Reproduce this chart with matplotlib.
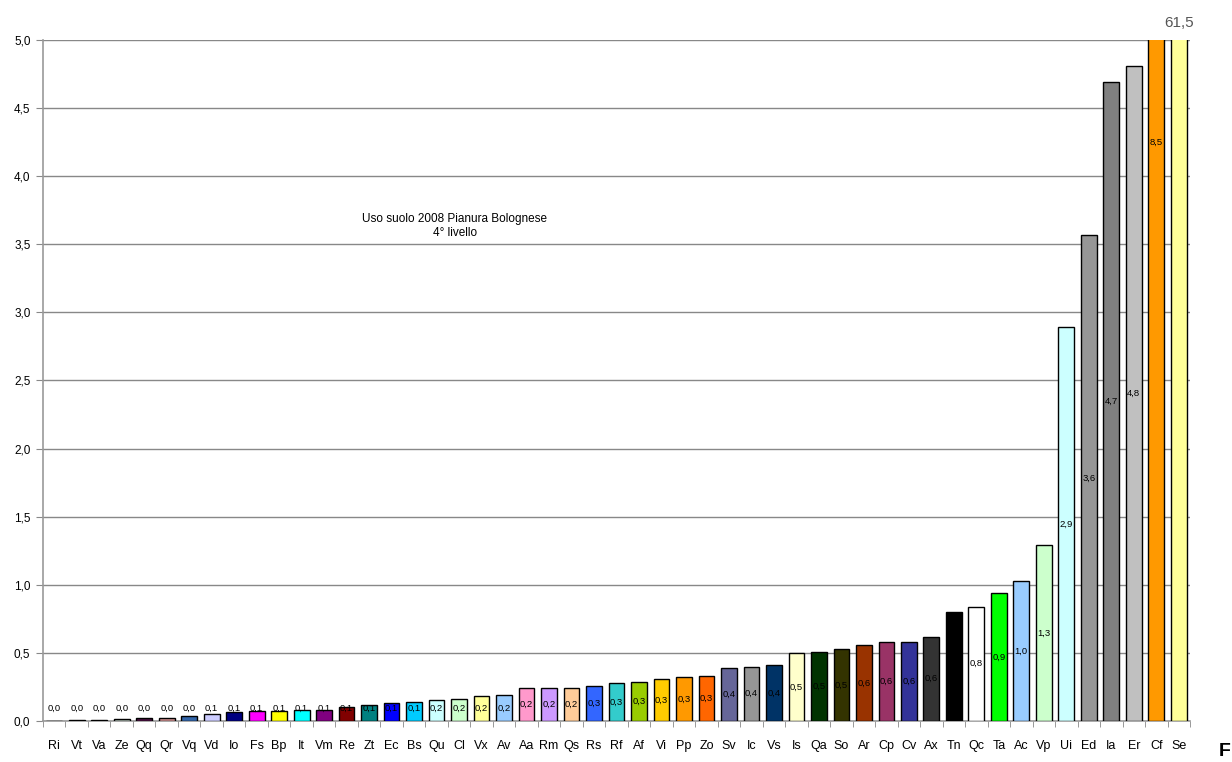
import matplotlib.pyplot as plt
import matplotlib.transforms as mtransforms
import numpy as np

plt.rcParams['font.family'] = ['Liberation Sans', 'DejaVu Sans']

codes = ['Ri', 'Vt', 'Va', 'Ze', 'Qq', 'Qr', 'Vq', 'Vd', 'Io', 'Fs', 'Bp', 'It', 'Vm', 'Re',
         'Zt', 'Ec', 'Bs', 'Qu', 'Cl', 'Vx', 'Av', 'Aa', 'Rm', 'Qs', 'Rs', 'Rf', 'Af', 'Vi',
         'Pp', 'Zo', 'Sv', 'Ic', 'Vs', 'Is', 'Qa', 'So', 'Ar', 'Cp', 'Cv', 'Ax', 'Tn', 'Qc',
         'Ta', 'Ac', 'Vp', 'Ui', 'Ed', 'Ia', 'Er', 'Cf', 'Se']

# percent of area
values = [0.0, 0.005, 0.01, 0.012, 0.02, 0.022, 0.04, 0.055, 0.065, 0.07, 0.072, 0.078,
          0.08, 0.1, 0.12, 0.13, 0.14, 0.155, 0.165, 0.18, 0.19, 0.24, 0.24, 0.245, 0.26,
          0.28, 0.29, 0.31, 0.32, 0.33, 0.39, 0.4, 0.41, 0.5, 0.51, 0.53, 0.56, 0.58, 0.58,
          0.62, 0.8, 0.84, 0.94, 1.03, 1.29, 2.89, 3.57, 4.69, 4.81, 8.5, 61.5]

colors = ['#999999', '#333333', '#d8d8d8', '#c8d8cc', '#4a1040', '#d09090', '#3366aa',
          '#ccccff', '#000080', '#ff00ff', '#ffff00', '#00ffff', '#800080', '#800000',
          '#008080', '#0000ff', '#00ccff', '#ccffff', '#ccffcc', '#ffff99', '#99ccff',
          '#ff99cc', '#cc99ff', '#ffcc99', '#3366ff', '#33cccc', '#99cc00', '#ffcc00',
          '#ff9900', '#ff6600', '#666699', '#969696', '#003366', '#ffffcc', '#003300',
          '#333300', '#993300', '#993366', '#333399', '#333333', '#000000', '#ffffff',
          '#00ff00', '#99ccff', '#ccffcc', '#ccffff', '#969696', '#808080', '#c0c0c0',
          '#ff9900', '#ffff99']

YMAX = 5.0

fig = plt.figure(figsize=(12.32, 7.62), dpi=100)
ax = fig.add_axes([43/1232, 1 - 721/762, 1147/1232, 681/762])

x = np.arange(len(codes))
ax.bar(x, values, width=0.7, color=colors, edgecolor='black', linewidth=1, zorder=3)

for xi, v in zip(x, values):
    if v / 2 > YMAX:
        continue  # label would be off the chart anyway
    lbl = f'{v:.1f}'.replace('.', ',')
    ax.text(xi, max(v / 2, 0.095), lbl, ha='center', va='center', fontsize=6.8,
            color='black', zorder=4, clip_on=True)

# Se goes way off the scale, its value sits over the top
top_off = mtransforms.offset_copy(ax.transData, fig=fig, x=0, y=12, units='points')
ax.text(x[-1], YMAX, f'{values[-1]:.1f}'.replace('.', ','), transform=top_off,
        ha='center', va='center', fontsize=11, color='#555555', clip_on=False)

ax.set_xlim(-0.5, len(codes) - 0.5)
ax.set_ylim(0, YMAX)
yt = np.arange(0, YMAX + 0.01, 0.5)
ax.set_yticks(yt)
ax.set_yticklabels([f'{t:.1f}'.replace('.', ',') for t in yt], fontsize=8.5)
ax.yaxis.grid(True, color='#888888', linewidth=1, zorder=0)
ax.tick_params(axis='y', direction='out', length=5, color='#888888', pad=4)

ax.set_xticks(x)
ax.set_xticklabels(codes, fontsize=9)
ax.set_xticks(np.arange(-0.5, len(codes), 1), minor=True)
ax.tick_params(axis='x', which='major', length=0, pad=14)
ax.tick_params(axis='x', which='minor', direction='out', length=4, color='#888888')

for s in ['top', 'right']:
    ax.spines[s].set_visible(False)
for s in ['left', 'bottom']:
    ax.spines[s].set_color('#999999')
    ax.spines[s].set_linewidth(1.2)

ax.text(0.359, 0.727, 'Uso suolo 2008 Pianura Bolognese\n4° livello', transform=ax.transAxes,
        ha='center', va='center', fontsize=8.5, linespacing=1.3)

fig.text(1219/1232, 1 - 752/762, 'F', fontsize=14, fontweight='bold', ha='left', va='center')

fig.savefig('out.png', dpi=100)
